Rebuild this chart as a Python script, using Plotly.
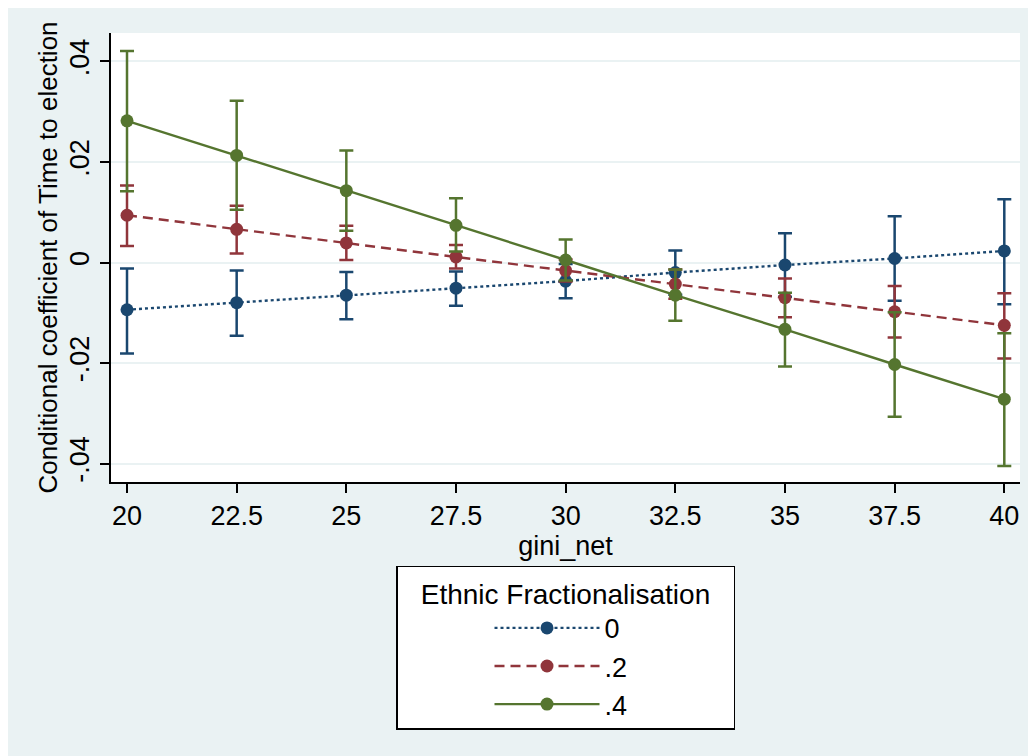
import plotly.graph_objects as go

gini = [20, 22.5, 25, 27.5, 30, 32.5, 35, 37.5, 40]

est_0 = [-0.0094, -0.0080, -0.0065, -0.0051, -0.0037, -0.0020, -0.0005, 0.0008, 0.0023]
lo_0 = [-0.0181, -0.0146, -0.0113, -0.0086, -0.0071, -0.0064, -0.0068, -0.0076, -0.0083]
hi_0 = [-0.0012, -0.0016, -0.0019, -0.0018, -0.0003, 0.0024, 0.0058, 0.0092, 0.0126]

est_2 = [0.0094, 0.0066, 0.0039, 0.0011, -0.0016, -0.0043, -0.0070, -0.0098, -0.0125]
lo_2 = [0.0033, 0.0018, 0.0005, -0.0012, -0.0038, -0.0072, -0.0109, -0.0149, -0.0191]
hi_2 = [0.0153, 0.0113, 0.0073, 0.0035, 0.0006, -0.0014, -0.0032, -0.0047, -0.0061]

est_4 = [0.0282, 0.0213, 0.0143, 0.0074, 0.0005, -0.0065, -0.0133, -0.0203, -0.0272]
lo_4 = [0.0142, 0.0105, 0.0063, 0.0022, -0.0036, -0.0116, -0.0207, -0.0307, -0.0405]
hi_4 = [0.0421, 0.0322, 0.0223, 0.0128, 0.0046, -0.0014, -0.0060, -0.0099, -0.0141]

series = [
    ("0", est_0, lo_0, hi_0, "#1a476f", "dot"),
    (".2", est_2, lo_2, hi_2, "#90353b", "10px,6px"),
    (".4", est_4, lo_4, hi_4, "#55752f", "solid"),
]

y_ticks = [-0.04, -0.02, 0, 0.02, 0.04]
y_tick_text = ["-.04", "-.02", "0", ".02", ".04"]
x_ticks = [20, 22.5, 25, 27.5, 30, 32.5, 35, 37.5, 40]
x_tick_text = ["20", "22.5", "25", "27.5", "30", "32.5", "35", "37.5", "40"]

BG = "#EAF2F3"
FONT = "Liberation Sans, Arial, sans-serif"
NB = "\u00a0\u00a0\u2009"

fig = go.Figure()
for name, est, lo, hi, color, dash in series:
    fig.add_trace(go.Scatter(
        x=gini, y=est, name=name, mode="lines+markers",
        line=dict(color=color, width=2.4, dash=dash),
        marker=dict(color=color, size=13, symbol="circle"),
        error_y=dict(
            type="data", symmetric=False,
            array=[h - e for h, e in zip(hi, est)],
            arrayminus=[e - l for e, l in zip(est, lo)],
            color=color, thickness=2.5, width=7,
        ),
    ))

fig.update_layout(
    width=1036, height=756,
    paper_bgcolor=BG, plot_bgcolor="white",
    margin=dict(l=103, r=24, t=25, b=282, autoexpand=False),
    font=dict(family=FONT, size=27, color="black"),
    showlegend=True,
    legend=dict(
        x=0.5, xanchor="center", y=-0.187, yanchor="top",
        bgcolor="white", bordercolor="black", borderwidth=1.5,
        font=dict(family=FONT, size=27, color="black"),
        title=dict(text=NB + "Ethnic Fractionalisation" + NB, side="top center",
                   font=dict(family=FONT, size=28, color="black")),
        itemwidth=105,
        indentation=92,
        tracegroupgap=2,
    ),
)

fig.update_xaxes(
    range=[19.635, 40.358], tickmode="array", tickvals=x_ticks, ticktext=x_tick_text,
    showgrid=False, zeroline=False, showline=True, linecolor="black", linewidth=1.5,
    ticks="outside", ticklen=9, tickwidth=1.5, tickcolor="black",
    tickfont=dict(size=27),
    title=dict(text="gini_net", font=dict(size=27), standoff=2),
)
fig.update_yaxes(
    range=[-0.04368, 0.04567], tickmode="array", tickvals=y_ticks, ticktext=y_tick_text,
    tickangle=-90,
    showgrid=True, gridcolor=BG, gridwidth=1.5, zeroline=False,
    showline=True, linecolor="black", linewidth=1.5,
    ticks="outside", ticklen=9, tickwidth=1.5, tickcolor="black",
    tickfont=dict(size=27),
    title=dict(text="Conditional coefficient of Time to election", font=dict(size=26), standoff=0),
)

fig.write_html("out.html")
